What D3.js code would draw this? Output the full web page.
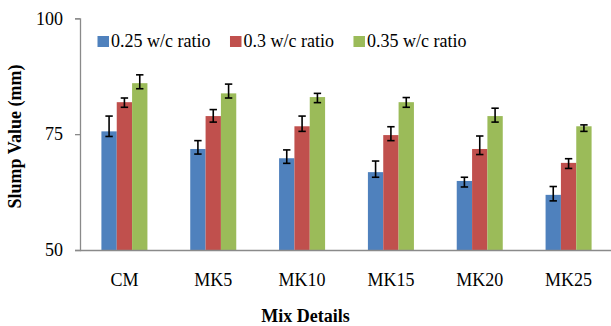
<!DOCTYPE html>
<html><head><meta charset="utf-8">
<script src="https://cdn.jsdelivr.net/npm/d3@7"></script>
<style>
html,body{margin:0;padding:0;background:#fff;}
svg text{font-family:"Liberation Serif","Times New Roman","DejaVu Serif",serif !important;fill:#000;}
</style></head>
<body><svg id="c" width="611" height="326"></svg>
<script>
const categories = ["CM","MK5","MK10","MK15","MK20","MK25"];
const seriesNames = ["0.25 w/c ratio","0.3 w/c ratio","0.35 w/c ratio"];
const wc025 = [75.6, 71.8, 69.8, 66.8, 64.9, 61.9];
const wc030 = [81.9, 78.9, 76.7, 74.8, 71.8, 68.8];
const wc035 = [86.0, 83.8, 83.0, 81.9, 78.9, 76.7];
const errUp025 = [3.3, 1.8, 1.8, 2.4, 0.8, 1.8];
const errDown025 = [1.1, 1.1, 1.1, 1.1, 1.3, 1.3];
const errUp030 = [0.9, 1.4, 2.2, 1.8, 2.8, 0.9];
const errDown030 = [1.1, 1.3, 1.1, 1.2, 1.2, 1.2];
const errUp035 = [1.8, 2.0, 0.8, 1.0, 1.7, 0.3];
const errDown035 = [1.2, 1.0, 1.2, 1.1, 1.3, 1.1];
const yTicks = [50, 75, 100];
const colors = ["#4F81BD","#C0504D","#9BBB59"];

(function () {
const values = [wc025, wc030, wc035];
const ups = [errUp025, errUp030, errUp035];
const downs = [errDown025, errDown030, errDown035];
const FONT = "'Liberation Serif', 'Times New Roman', 'DejaVu Serif', serif";

const svg = d3.select("#c");
const pL = 80, pR = 613, pT = 18.3, pB = 250;

const x = d3.scaleBand().domain(categories).range([pL, pR]).paddingInner(0.482).paddingOuter(0.241);
const xs = d3.scaleBand().domain(d3.range(3)).range([0, x.bandwidth()]).padding(0);
const y = d3.scaleLinear().domain([50, 100]).range([pB, pT]);

const rows = [];
categories.forEach((c, i) => {
  for (let s = 0; s < 3; s++) rows.push({c, s, v: values[s][i], up: ups[s][i], dn: downs[s][i]});
});

// bars
svg.append("g").selectAll("rect").data(rows).join("rect")
  .attr("x", d => x(d.c) + xs(d.s))
  .attr("width", xs.bandwidth())
  .attr("y", d => y(d.v))
  .attr("height", d => y(50) - y(d.v))
  .attr("fill", d => colors[d.s]);

// x axis
const gx = svg.append("g").attr("transform", `translate(0,${pB})`)
  .call(d3.axisBottom(x).tickSize(0).tickPadding(23));
gx.attr("font-family", null).attr("font-size", null);
gx.select(".domain").attr("stroke", "#8a8a8a").attr("stroke-width", 1.3).attr("d", `M${pL},0.5H611`);
gx.selectAll("text").style("font-size", "18px").style("font-family", FONT);

// y axis
const gy = svg.append("g").attr("transform", `translate(${pL},0)`)
  .call(d3.axisLeft(y).tickValues(yTicks).tickSize(5).tickPadding(12));
gy.attr("font-family", null).attr("font-size", null);
gy.select(".domain").attr("stroke", "#8a8a8a").attr("stroke-width", 1.3);
gy.selectAll(".tick line").attr("stroke", "#8a8a8a").attr("stroke-width", 1.3);
gy.selectAll("text").style("font-size", "18px").style("font-family", FONT);

// error bars
const eg = svg.append("g").attr("stroke", "#000").attr("stroke-width", 1.6);
rows.forEach(d => {
  const cx = x(d.c) + xs(d.s) + xs.bandwidth() / 2;
  const y1 = y(d.v + d.up), y2 = y(d.v - d.dn);
  eg.append("line").attr("x1", cx).attr("x2", cx).attr("y1", y1).attr("y2", y2);
  eg.append("line").attr("x1", cx - 3.7).attr("x2", cx + 3.7).attr("y1", y1).attr("y2", y1);
  eg.append("line").attr("x1", cx - 3.7).attr("x2", cx + 3.7).attr("y1", y2).attr("y2", y2);
});

// legend
const lg = svg.append("g");
let lx = 97.5;
seriesNames.forEach((n, i) => {
  lg.append("rect").attr("x", lx).attr("y", 36).attr("width", 11.5).attr("height", 11).attr("fill", colors[i]);
  const t = lg.append("text").attr("x", lx + 13.5).attr("y", 47)
    .style("font-size", "18px").style("font-family", FONT).text(n);
  lx += 13.5 + t.node().getComputedTextLength() + 19.5;
});

// axis titles
svg.append("text").attr("x", 305.5).attr("y", 322).attr("text-anchor", "middle")
  .style("font-size", "18px").style("font-weight", "bold").style("font-family", FONT).text("Mix Details");
svg.append("text").attr("transform", "translate(21,136.5) rotate(-90)").attr("text-anchor", "middle")
  .style("font-size", "18px").style("font-weight", "bold").style("font-family", FONT).text("Slump Value (mm)");
})();
</script></body></html>
